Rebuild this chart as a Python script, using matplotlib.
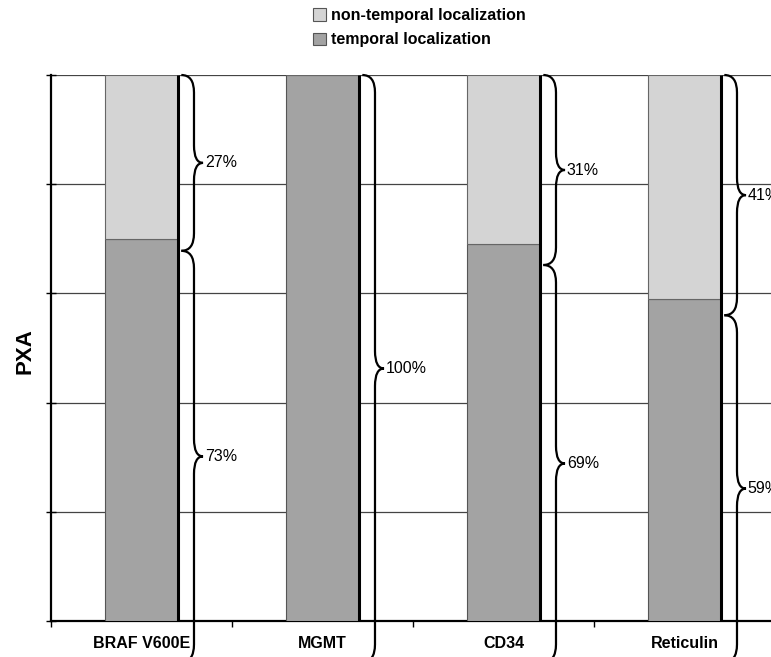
import matplotlib
matplotlib.use("Agg")
import matplotlib.pyplot as plt
from matplotlib.path import Path
from matplotlib.patches import PathPatch, Patch

plt.rcParams['font.family'] = ['Liberation Sans', 'DejaVu Sans']

categories = ["BRAF V600E", "MGMT", "CD34", "Reticulin"]
temporal = [70, 100, 69, 59]          # bar height of temporal part (as drawn)
non_temporal = [30, 0, 31, 41]         # remainder up to 100
label_temporal = ["73%", "100%", "69%", "59%"]
label_nontemporal = ["27%", None, "31%", "41%"]
brace_split = [67.8, 100, 65.2, 56.0]  # where the drawn braces meet

c_light = "#d4d4d4"
c_dark = "#a3a3a3"

fig = plt.figure(figsize=(7.71, 6.57), dpi=100)
ax = fig.add_axes([51/771, 1-621/657, 724/771, 546/657])

x = list(range(len(categories)))
bw = 0.40
ax.bar(x, temporal, width=bw, color=c_dark, edgecolor="#555555", linewidth=0.8, zorder=3)
ax.bar(x, non_temporal, bottom=temporal, width=bw, color=c_light, edgecolor="#666666",
       linewidth=0.8, zorder=3)
for xi, t, n in zip(x, temporal, non_temporal):
    ax.plot([xi + bw/2, xi + bw/2], [0, t + n], color="black", lw=2.2, zorder=4,
            solid_capstyle="butt")

ax.set_xlim(-0.5, 3.5)
ax.set_ylim(0, 100)

bottom_end = -7.5


def brace(ax, x0, yt, yb, w=0.12, stem=0.07, r=3.2):
    ym = (yt + yb) / 2
    xs = x0 + stem
    xt = x0 + w
    verts = [(x0, yt), (xs, yt), (xs, yt - r),
             (xs, ym + r),
             (xs, ym), (xt, ym),
             (xs, ym), (xs, ym - r),
             (xs, yb + r),
             (xs, yb), (x0, yb)]
    codes = [Path.MOVETO, Path.CURVE3, Path.CURVE3,
             Path.LINETO,
             Path.CURVE3, Path.CURVE3,
             Path.CURVE3, Path.CURVE3,
             Path.LINETO,
             Path.CURVE3, Path.CURVE3]
    p = PathPatch(Path(verts, codes), facecolor="none", edgecolor="black", lw=1.6,
                  clip_on=False, zorder=5)
    ax.add_patch(p)
    return xt, ym


for xi, split, lt, ln in zip(x, brace_split, label_temporal, label_nontemporal):
    x0 = xi + bw/2 + 0.02
    if ln is not None:
        xt, ym = brace(ax, x0, 100, split)
        ax.text(xt + 0.01, ym, ln, fontsize=11.5, va="center", ha="left", clip_on=False)
    xt, ym = brace(ax, x0, split, bottom_end)
    ax.text(xt + 0.01, ym, lt, fontsize=11.5, va="center", ha="left", clip_on=False)

# grid
ax.set_yticks([0, 20, 40, 60, 80, 100])
ax.yaxis.grid(True, color="#444444", lw=0.9, zorder=0)
ax.set_yticklabels([])
ax.tick_params(axis="y", direction="inout", length=7, width=1)

ax.set_xticks([-0.5, 0.5, 1.5, 2.5, 3.5])
ax.set_xticklabels([])
ax.set_xticks(x, minor=True)
ax.set_xticklabels(categories, minor=True, fontsize=11.5, fontweight="bold")
ax.tick_params(axis="x", which="major", direction="out", length=4, width=1)
ax.tick_params(axis="x", which="minor", length=0, pad=11)

for s in ["top", "right"]:
    ax.spines[s].set_visible(False)
ax.spines["left"].set_linewidth(1.6)
ax.spines["bottom"].set_linewidth(1.6)

fig.text(25/771, 1-351/657, "PXA", rotation=90, fontsize=16, fontweight="bold",
         ha="center", va="center")

handles = [Patch(facecolor=c_light, edgecolor="#555555", lw=0.8, label="non-temporal localization"),
           Patch(facecolor=c_dark, edgecolor="#555555", lw=0.8, label="temporal localization")]
leg = fig.legend(handles=handles, loc="upper left", bbox_to_anchor=(313/771, 1-8/657),
                 frameon=False, borderpad=0, borderaxespad=0, handlelength=0.8,
                 handleheight=0.8, handletextpad=0.3, labelspacing=0.58,
                 prop={"size": 11.5, "weight": "bold"})

fig.savefig("out.png", dpi=100)
